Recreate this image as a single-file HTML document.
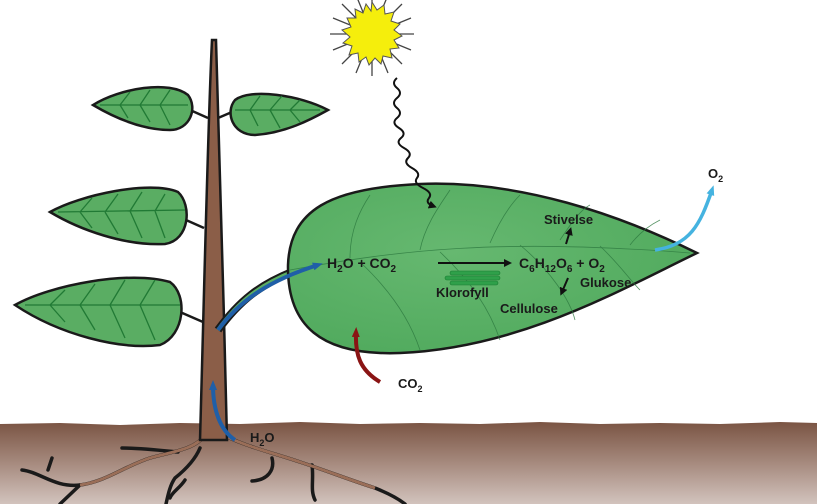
<!DOCTYPE html>
<html><head><meta charset="utf-8"><style>
html,body{margin:0;padding:0;background:#fff;width:817px;height:504px;overflow:hidden}
text{font-family:"Liberation Sans",sans-serif;font-weight:bold;fill:#1a1a1a}
</style></head><body>
<svg width="817" height="504" viewBox="0 0 817 504" xmlns="http://www.w3.org/2000/svg">
<defs>
<linearGradient id="soil" x1="0" y1="0" x2="0" y2="1">
<stop offset="0" stop-color="#7a5443"/><stop offset="0.5" stop-color="#a68a7e"/><stop offset="1" stop-color="#d2c3bd"/>
</linearGradient>
<radialGradient id="lg" cx="0.4" cy="0.4" r="0.7"><stop offset="0" stop-color="#66b870"/><stop offset="1" stop-color="#4fa95c"/></radialGradient>
<marker id="ab" markerUnits="userSpaceOnUse" markerWidth="10" markerHeight="10" refX="5" refY="5" orient="auto"><path d="M0,1 L10,5 L0,9Z" fill="#1f5fa8"/></marker>
<marker id="ac" markerUnits="userSpaceOnUse" markerWidth="10" markerHeight="10" refX="5" refY="5" orient="auto"><path d="M0,1 L10,5 L0,9Z" fill="#45b3e0"/></marker>
<marker id="ar" markerUnits="userSpaceOnUse" markerWidth="10" markerHeight="10" refX="5" refY="5" orient="auto"><path d="M0,1 L10,5 L0,9Z" fill="#8a1414"/></marker>
<marker id="ak" markerUnits="userSpaceOnUse" markerWidth="8" markerHeight="8" refX="4" refY="4" orient="auto"><path d="M0,0 L8,4 L0,8Z" fill="#111"/></marker>
</defs>
<!-- soil -->
<path d="M0,424 L60,423 L120,425 L180,423 L240,424 L300,422 L360,424 L420,423 L480,424 L540,422 L600,424 L660,423 L720,424 L780,422 L817,423 V504 H0Z" fill="url(#soil)"/>
<!-- roots -->
<g fill="none" stroke="#1a1a1a" stroke-width="3.5" stroke-linecap="round">
<path d="M205,435 C195,450 170,452 150,458 C125,466 105,482 80,485 C55,488 40,472 22,470"/>
<path d="M218,432 C240,445 270,452 300,462 C330,472 350,480 375,488 C390,494 400,500 405,504"/>
<path d="M200,448 C195,460 185,470 175,478 C170,485 168,495 166,504"/>
<path d="M122,448 C140,448 158,450 178,452"/>
<path d="M48,470 L52,458 M80,485 L60,504 M272,458 C275,470 268,480 252,481 M312,465 C314,480 310,490 315,500 M185,480 C180,488 172,492 170,498"/>
</g>
<g fill="none" stroke="#9a6e58" stroke-width="3">
<path d="M205,435 C195,450 170,452 150,458 C125,466 105,482 80,485"/>
<path d="M218,432 C240,445 270,452 300,462 C330,472 350,480 375,488"/>
</g>
<!-- stem -->
<path d="M212,40 L216,40 C218,120 224,300 227,440 L200,440 C204,300 208,120 212,40Z" fill="#8b5e48" stroke="#1a1a1a" stroke-width="2.5"/>
<!-- small leaves -->
<g stroke="#1a1a1a" stroke-width="2.5" fill="#5aad63">
<path d="M208,118 L190,110" fill="none"/>
<path d="M93,105 C120,88 170,80 188,95 C198,108 190,130 170,130 C140,130 110,115 93,105Z"/>
<path d="M218,118 L232,112" fill="none"/>
<path d="M328,110 C300,95 250,88 235,100 C225,112 232,135 255,135 C285,133 310,120 328,110Z"/>
<path d="M204,228 L186,220" fill="none"/>
<path d="M50,212 C80,195 150,180 178,192 C192,205 190,240 165,244 C125,246 80,230 50,212Z"/>
<path d="M203,322 L180,312" fill="none"/>
<path d="M15,305 C50,285 130,270 170,282 C188,295 185,335 160,345 C120,350 60,335 15,305Z"/>
</g>
<g stroke="#217a35" stroke-width="1.3" fill="none">
<path d="M100,105 L188,105 M120,105 L130,92 M140,105 L150,90 M160,105 L170,90 M120,105 L128,118 M140,105 L150,122 M160,105 L170,125"/>
<path d="M235,110 L320,110 M250,110 L260,96 M270,110 L282,96 M290,110 L300,100 M250,110 L258,126 M270,110 L280,128 M290,110 L300,122"/>
<path d="M58,212 L185,210 M80,212 L92,198 M105,212 L118,194 M130,211 L142,192 M155,211 L165,194 M80,212 L92,228 M105,212 L118,234 M130,211 L142,238 M155,211 L165,238"/>
<path d="M25,305 L180,305 M50,305 L65,290 M80,305 L95,284 M110,305 L125,280 M140,305 L155,280 M50,305 L65,322 M80,305 L95,330 M110,305 L125,338 M140,305 L155,340"/>
</g>
<!-- petiole -->
<path d="M218,330 C240,300 260,285 292,272" stroke="#1a1a1a" stroke-width="8" fill="none"/>
<path d="M218,330 C240,300 260,285 292,272" stroke="#5aad63" stroke-width="4" fill="none"/>
<!-- big leaf -->
<path d="M697,253 C620,215 520,180 420,184 C330,188 290,210 288,265 C287,325 320,356 400,353 C520,348 620,290 697,253Z" fill="url(#lg)" stroke="#1a1a1a" stroke-width="2.5"/>
<g stroke="#2e7a40" stroke-width="0.8" fill="none" opacity="0.8">
<path d="M290,270 C400,250 500,238 690,253"/>
<path d="M350,258 C350,230 360,210 370,195 M420,250 C425,225 440,205 450,190 M490,243 C500,220 510,205 520,195 M560,240 C570,225 580,210 590,205 M630,245 C640,232 650,225 660,220"/>
<path d="M360,262 C390,290 410,320 420,350 M440,252 C470,280 490,310 500,340 M520,245 C550,270 570,300 575,320 M600,246 C620,265 630,280 640,290"/>
</g>
<!-- sun -->
<g transform="translate(372,34)">
<g stroke="#444" stroke-width="1.3">
<path d="M-42,0 L42,0 M0,-42 L0,42 M-30,-30 L30,30 M-30,30 L30,-30 M-39,-16 L39,16 M-39,16 L39,-16 M-16,-39 L16,39 M16,-39 L-16,39"/>
</g>
<polygon points="0,-32 5,-24 12,-29 13,-20 22,-22 19,-13 28,-10 22,-4 30,2 22,6 27,14 18,15 20,24 11,22 9,30 3,24 -3,31 -6,23 -13,28 -14,19 -23,21 -20,12 -29,9 -22,3 -30,-4 -21,-7 -25,-16 -16,-16 -17,-25 -9,-21 -6,-30 -1,-23" fill="#f5ee0c" stroke="#555" stroke-width="1"/>
</g>
<!-- wavy light -->
<path d="M397,78 q-6,5 0,10 t0,10 t0,10 t0,10 t2,10 t2,10 t3,10 t4,10 t4,10 t5,10 t6,10 t6,10 t4,8" stroke="#111" stroke-width="2" fill="none" marker-end="url(#ak)"/>
<!-- arrows -->
<path d="M218,330 C240,300 270,280 318,265" stroke="#1f5fa8" stroke-width="4" fill="none" marker-end="url(#ab)"/>
<path d="M235,440 C220,430 213,410 213,385" stroke="#1f5fa8" stroke-width="4" fill="none" marker-end="url(#ab)"/>
<path d="M655,250 C690,245 700,225 712,190" stroke="#45b3e0" stroke-width="3.5" fill="none" marker-end="url(#ac)"/>
<path d="M380,382 C360,370 355,355 356,332" stroke="#8a1414" stroke-width="4" fill="none" marker-end="url(#ar)"/>
<path d="M438,263 L508,263" stroke="#111" stroke-width="2" marker-end="url(#ak)"/>
<path d="M566,244 L570,231" stroke="#111" stroke-width="2" marker-end="url(#ak)"/>
<path d="M568,278 L562,292" stroke="#111" stroke-width="2" marker-end="url(#ak)"/>
<!-- chlorophyll -->
<g fill="#2fa04a" stroke="#1a7a30" stroke-width="0.6">
<rect x="450" y="271" width="50" height="4" rx="2"/><rect x="445" y="276" width="55" height="4" rx="2"/><rect x="450" y="281" width="48" height="4" rx="2"/>
</g>
<!-- labels -->
<text x="327" y="268" font-size="14">H<tspan font-size="10" dy="4">2</tspan><tspan dy="-4">O + CO</tspan><tspan font-size="10" dy="4">2</tspan></text>
<text x="519" y="268" font-size="14">C<tspan font-size="10" dy="4">6</tspan><tspan dy="-4">H</tspan><tspan font-size="10" dy="4">12</tspan><tspan dy="-4">O</tspan><tspan font-size="10" dy="4">6</tspan><tspan dy="-4"> + O</tspan><tspan font-size="10" dy="4">2</tspan></text>
<text x="544" y="224" font-size="13">Stivelse</text>
<text x="580" y="287" font-size="13">Glukose</text>
<text x="436" y="297" font-size="13">Klorofyll</text>
<text x="500" y="313" font-size="13">Cellulose</text>
<text x="398" y="388" font-size="13">CO<tspan font-size="9" dy="4">2</tspan></text>
<text x="708" y="178" font-size="13">O<tspan font-size="9" dy="4">2</tspan></text>
<text x="250" y="442" font-size="13">H<tspan font-size="9" dy="4">2</tspan><tspan dy="-4">O</tspan></text>
</svg>
</body></html>
